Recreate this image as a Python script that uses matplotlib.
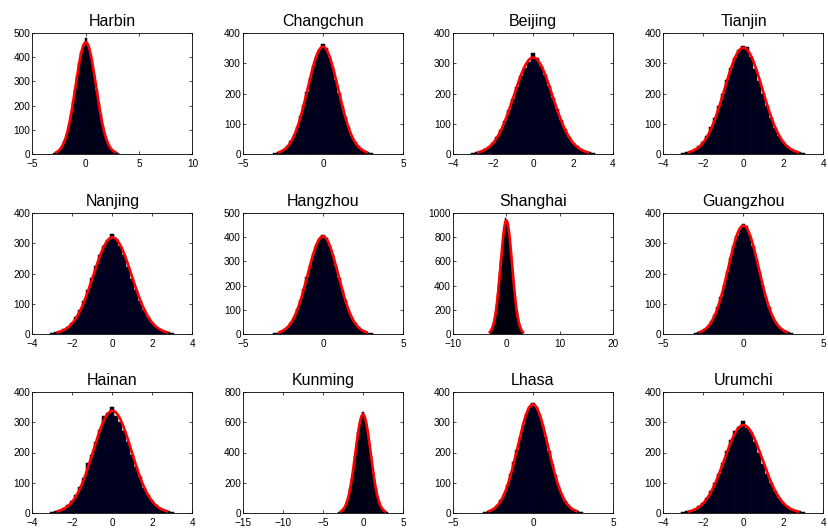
import numpy as np
import matplotlib
matplotlib.use("Agg")
import matplotlib.pyplot as plt

plt.rcParams['font.family'] = ['Liberation Sans', 'DejaVu Sans']

cities = ["Harbin", "Changchun", "Beijing", "Tianjin",
          "Nanjing", "Hangzhou", "Shanghai", "Guangzhou",
          "Hainan", "Kunming", "Lhasa", "Urumchi"]

# bin centres shared by all panels (value axis)
bin_start = -3.0
bin_width = 0.2

# bar heights (counts), bins -3.0 ... 3.0
harbin    = [4, 7, 13, 22, 35, 55, 82, 118, 162, 214, 268, 322, 378, 420, 448, 478,
             452, 415, 372, 328, 265, 210, 165, 115, 80, 52, 36, 20, 12, 7, 4]
changchun = [3, 5, 10, 17, 27, 42, 62, 90, 124, 163, 205, 250, 290, 322, 345, 362,
             350, 322, 286, 246, 203, 160, 122, 88, 60, 41, 26, 16, 9, 5, 3]
beijing   = [3, 5, 9, 15, 24, 37, 55, 80, 110, 145, 183, 222, 258, 285, 305, 335,
             318, 290, 262, 225, 185, 148, 112, 82, 57, 38, 25, 15, 9, 5, 3]
tianjin   = [3, 5, 10, 16, 26, 40, 60, 88, 120, 160, 200, 245, 285, 318, 345, 358,
             355, 322, 282, 242, 198, 158, 120, 86, 60, 40, 26, 16, 9, 5, 3]
nanjing   = [3, 5, 9, 15, 24, 37, 55, 80, 110, 146, 185, 224, 262, 292, 310, 330,
             315, 290, 260, 222, 182, 145, 110, 80, 56, 37, 24, 15, 9, 5, 3]
hangzhou  = [4, 6, 11, 19, 30, 47, 71, 102, 140, 185, 235, 285, 332, 368, 392, 410,
             395, 365, 328, 282, 232, 183, 140, 100, 70, 46, 30, 18, 11, 6, 3]
shanghai  = [25, 40, 62, 92, 132, 185, 250, 328, 417, 512, 610, 705, 788, 855, 955, 925,
             905, 860, 795, 710, 615, 515, 420, 330, 252, 186, 133, 93, 63, 41, 26]
guangzhou = [3, 5, 10, 17, 27, 42, 62, 90, 123, 163, 206, 250, 292, 325, 352, 362,
             358, 328, 290, 248, 205, 162, 123, 88, 61, 41, 26, 16, 10, 5, 3]
hainan    = [3, 5, 9, 16, 25, 39, 58, 85, 115, 165, 192, 235, 275, 322, 330, 350,
             322, 302, 272, 234, 192, 152, 118, 84, 58, 39, 25, 15, 9, 5, 3]
kunming   = [6, 10, 18, 30, 49, 77, 115, 165, 228, 300, 380, 460, 533, 592, 630, 665,
             640, 590, 530, 457, 378, 300, 228, 166, 115, 77, 49, 30, 18, 10, 5]
lhasa     = [3, 5, 10, 17, 27, 42, 63, 92, 128, 170, 208, 252, 292, 326, 352, 365,
             352, 325, 290, 250, 206, 163, 124, 90, 62, 41, 27, 16, 10, 5, 3]
urumchi   = [3, 5, 8, 14, 22, 34, 50, 72, 99, 130, 165, 205, 240, 272, 285, 305,
             280, 268, 235, 200, 163, 128, 98, 72, 50, 33, 22, 13, 8, 5, 3]

counts = [harbin, changchun, beijing, tianjin, nanjing, hangzhou,
          shanghai, guangzhou, hainan, kunming, lhasa, urumchi]

xticks = [[-5, 0, 5, 10], [-5, 0, 5], [-4, -2, 0, 2, 4], [-4, -2, 0, 2, 4],
          [-4, -2, 0, 2, 4], [-5, 0, 5], [-10, 0, 10, 20], [-5, 0, 5],
          [-4, -2, 0, 2, 4], [-15, -10, -5, 0, 5], [-5, 0, 5], [-4, -2, 0, 2, 4]]
ytop = [500, 400, 400, 400, 400, 500, 1000, 400, 400, 800, 400, 400]
ystep = [100, 100, 100, 100, 100, 100, 200, 100, 100, 200, 100, 100]

W, H = 829, 528
fig = plt.figure(figsize=(W / 100, H / 100), dpi=100)
lefts = [32.5, 243, 453, 663.5]
tops = [33, 213, 392]
aw, ah = 160, 121

for i, city in enumerate(cities):
    r, c = divmod(i, 4)
    ax = fig.add_axes([lefts[c] / W, 1 - (tops[r] + ah) / H, aw / W, ah / H])
    h = np.array(counts[i], dtype=float)
    centers = bin_start + bin_width * np.arange(len(h))
    ax.bar(centers, h, width=bin_width, color='#000024', edgecolor='#000000',
           linewidth=0.35, zorder=2)
    # normal fit of the histogram (as histfit does)
    n = h.sum()
    mu = (h * centers).sum() / n
    sd = np.sqrt((h * (centers - mu) ** 2).sum() / n)
    xc = np.linspace(mu - 2.85 * sd, mu + 2.85 * sd, 200)
    yc = n * bin_width / (sd * np.sqrt(2 * np.pi)) * np.exp(-0.5 * ((xc - mu) / sd) ** 2)
    ax.plot(xc, yc, color='#ff0000', linewidth=1.9, zorder=3)

    ax.set_xlim(xticks[i][0], xticks[i][-1])
    ax.set_ylim(0, ytop[i])
    ax.set_xticks(xticks[i])
    ax.set_yticks(np.arange(0, ytop[i] + 1, ystep[i]))
    ax.tick_params(direction='in', length=2.5, width=0.5, labelsize=7.2,
                   top=True, right=True, colors='#000000')
    ax.tick_params(axis='x', pad=3.3)
    ax.tick_params(axis='y', pad=1.5)
    for s in ax.spines.values():
        s.set_linewidth(0.6)
    ax.set_title(city, fontsize=11.5, pad=5)

fig.savefig("out.png", dpi=100)
